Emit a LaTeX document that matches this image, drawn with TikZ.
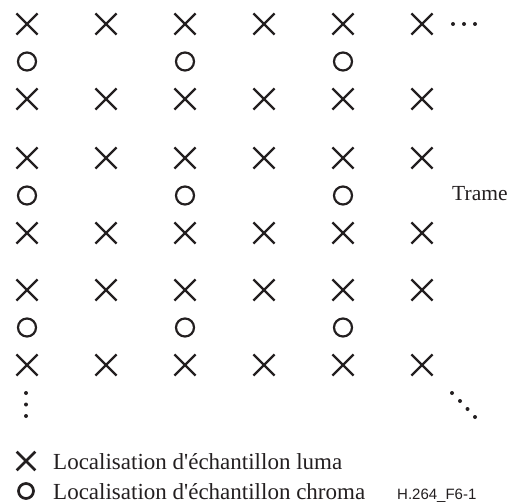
\documentclass[tikz,border=0pt]{standalone}
\usepackage{fontspec}
\setmainfont{Liberation Serif}
\newfontfamily\labelsans{Liberation Sans}
\usetikzlibrary{shapes.misc}
\definecolor{ink}{RGB}{35,31,32}
\begin{document}
\begin{tikzpicture}[x=1pt,y=-1pt,
  luma/.style={cross out,draw=ink,line width=2.2pt,minimum size=19pt,inner sep=0pt},
  chroma/.style={circle,draw=ink,line width=2.2pt,minimum size=18pt,inner sep=0pt},
  lumakey/.style={luma,line width=2.7pt,minimum size=16pt},
  chromakey/.style={chroma,line width=2.7pt,minimum size=15pt},
  caption/.style={font=\fontsize{23}{27}\selectfont,text=ink,inner sep=0pt,anchor=base west},
  dotmark/.style={fill=ink}]
\useasboundingbox (0,0) rectangle (513,503);

% three fields of sample rows: luma rows with a chroma row between them
\foreach \g/\y in {0/24,1/158,2/290} {
  \foreach \c/\x in {0/27,1/106,2/185,3/264,4/343,5/422} {
    \node[luma] (top\g-\c) at (\x,\y) {};
    \node[luma] (bot\g-\c) at (\x,\y+75) {};
  }
  \foreach \c/\x in {0/27,2/185,4/343}
    \node[chroma] (ch\g-\c) at (\x,\y+37.5) {};
}

% continuation dots
\foreach \x in {453,464,475} \fill[dotmark] (\x,24) circle (2pt);
\foreach \y in {393,404.5,416} \fill[dotmark] (26,\y) circle (2pt);
\foreach \x/\y in {452/393,460/401,467.5/409,475/417} \fill[dotmark] (\x,\y) circle (2pt);

% field label
\node[caption,font=\fontsize{21.5}{25}\selectfont] (trame) at (452,200) {Trame};

% legend
\node[lumakey] (keyluma) at (26,461) {};
\node[chromakey] (keychroma) at (26,491) {};
\node[caption] (txtluma) at (53,469) {Localisation d\textquotesingle échantillon luma};
\node[caption] (txtchroma) at (53,499) {Localisation d\textquotesingle échantillon chroma};
\node[inner sep=0pt,anchor=base west,text=ink,font=\labelsans\fontsize{15}{18}\selectfont] (figid) at (397,499) {H.264\_F6-1};
\end{tikzpicture}
\end{document}
